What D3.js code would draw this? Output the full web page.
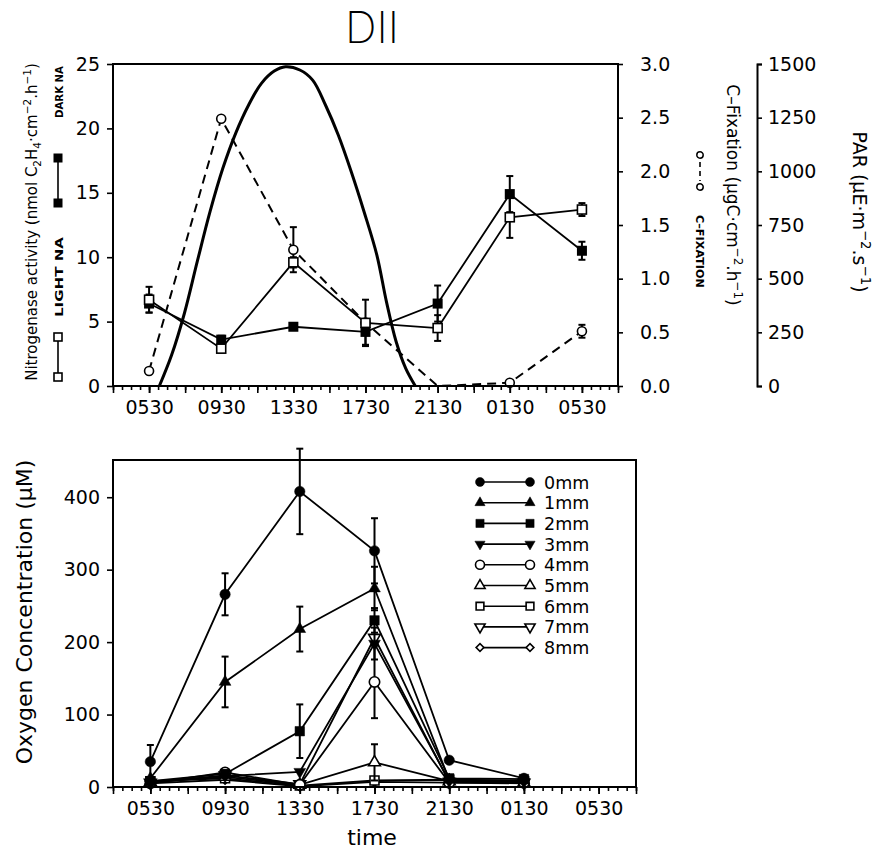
<!DOCTYPE html>
<html>
<head>
<meta charset="utf-8">
<script src="https://cdn.jsdelivr.net/npm/d3@7"></script>
<style>
  body { margin: 0; background: #fff; }
</style>
</head>
<body>
<div id="chart"></div>
<script>

/* DATA *****************************************************************/

// sampling times, in hours from midnight of day 1
var sampleHours = [5.5, 9.5, 13.5, 17.5, 21.5, 25.5, 29.5];
var tickLabels = ["0530", "0930", "1330", "1730", "2130", "0130", "0530"];

// nitrogenase activity (nmol C2H4 cm-2 h-1)
var lightNA    = [6.7, 2.9, 9.6, 4.9, 4.5, 13.1, 13.7];
var lightNAErr = [1.0, 0.3, 0.4, 1.8, 1.0, 1.6, 0.5];
var darkNA     = [6.4, 3.6, 4.6, 4.2, 6.4, 14.9, 10.5];
var darkNAErr  = [0.7, 0.3, 0.2, 1.0, 1.4, 1.4, 0.7];

// C-fixation (ugC cm-2 h-1)
var cFix    = [0.14, 2.49, 1.27, 0.59, 0.0, 0.03, 0.51];
var cFixErr = [0, 0, 0.21, 0, 0, 0, 0.06];

// PAR curve
var parHours  = [6.07, 6.75, 7.46, 8.17, 8.88, 9.59, 10.30, 11.02, 11.73, 12.44, 13.06,
                 13.86, 14.57, 15.28, 15.99, 16.71, 17.42, 18.13, 18.66, 19.20, 19.73, 20.26];
var parValues = [0, 144, 339, 579, 812, 1014, 1177, 1309, 1410, 1467, 1487,
                 1472, 1425, 1309, 1169, 998, 812, 610, 393, 206, 82, 0];

// oxygen concentration (uM) by depth, first six sampling times
var depths = ["0mm", "1mm", "2mm", "3mm", "4mm", "5mm", "6mm", "7mm", "8mm"];
var oxygenHours = [5.5, 9.5, 13.5, 17.5, 21.5, 25.5];
var oxygen = [
    [35, 266, 408, 326, 37, 12],
    [12, 145, 218, 274, 10, 9],
    [8, 18, 77, 230, 12, 11],
    [6, 15, 21, 198, 8, 7],
    [5, 20, 3, 145, 6, 6],
    [7, 14, 3, 34, 8, 6],
    [8, 12, 2, 9, 10, 8],
    [6, 16, 4, 206, 7, 6],
    [5, 10, 1, 7, 6, 5]
];
var oxygenErr = [
    [23, 29, 59, 45, 0, 0],
    [0, 35, 31, 30, 0, 0],
    [0, 5, 37, 17, 0, 0],
    [0, 0, 0, 22, 0, 0],
    [0, 0, 0, 50, 0, 0],
    [0, 0, 0, 25, 0, 0],
    [0, 0, 0, 0, 0, 0],
    [0, 0, 0, 0, 0, 0],
    [0, 0, 0, 0, 0, 0]
];

/* SETTINGS *************************************************************/

var fontFamily = "'DejaVu Sans', sans-serif";
var tickFont = 19;

var svg = d3.select("#chart").append("svg")
    .attr("width", 874)
    .attr("height", 854)
    .style("background", "#fff")
    .attr("font-family", fontFamily);

// scales
var xTop = d3.scaleLinear().domain([3.5, 31.5]).range([113, 618]);
var yNA  = d3.scaleLinear().domain([0, 25]).range([386, 64]);
var yC   = d3.scaleLinear().domain([0, 3]).range([386, 64]);
var yPAR = d3.scaleLinear().domain([0, 1500]).range([386, 64]);

var xBot = d3.scaleLinear().domain([3.5, 31.5]).range([113, 636]);
var yO2  = d3.scaleLinear().domain([0, 450]).range([787, 461]);

/* HELPERS **************************************************************/

function styleAxis(g, noDomain) {
    if (noDomain) g.select(".domain").remove();
    g.selectAll("line").attr("stroke", "#000").attr("stroke-width", 1.6);
    g.select(".domain").attr("stroke", "#000").attr("stroke-width", 2);
    g.selectAll("text").attr("fill", "#000").attr("font-size", tickFont).attr("font-family", fontFamily);
}

function timeAxis(x, yPos) {
    var minor = d3.range(3.5, 31.51, 0.5);
    var major = d3.range(3.5, 31.51, 2);
    svg.append("g").attr("transform", "translate(0," + yPos + ")")
        .call(d3.axisBottom(x).tickValues(minor).tickSize(4).tickFormat(""))
        .call(styleAxis, true);
    svg.append("g").attr("transform", "translate(0," + yPos + ")")
        .call(d3.axisBottom(x).tickValues(major).tickSize(7).tickFormat(""))
        .call(styleAxis, true);
    svg.append("g").attr("transform", "translate(0," + yPos + ")")
        .call(d3.axisBottom(x).tickValues(sampleHours).tickSize(7).tickPadding(8)
            .tickFormat(function(d, i) { return tickLabels[i]; }))
        .call(styleAxis, true);
}

// text with sub/superscripts; parts = [[text, "sub"|"sup"|null], ...]
function richText(g, parts, size) {
    var t = g.append("text").attr("text-anchor", "middle").attr("font-size", size).attr("fill", "#000");
    var cur = 0;
    parts.forEach(function(p) {
        var target = p[1] == "sup" ? -size * 0.42 : p[1] == "sub" ? size * 0.28 : 0;
        var ts = t.append("tspan").text(p[0]).attr("dy", target - cur);
        if (p[1]) ts.attr("font-size", size * 0.7);
        cur = target;
    });
    return t;
}

function errorBars(g, xs, vals, errs, x, y, cap) {
    xs.forEach(function(h, i) {
        var e = errs[i];
        if (!e) return;
        var cx = x(h), y1 = y(vals[i] - e), y2 = y(vals[i] + e);
        g.append("line").attr("x1", cx).attr("x2", cx).attr("y1", y1).attr("y2", y2)
            .attr("stroke", "#000").attr("stroke-width", 2);
        [y1, y2].forEach(function(yy) {
            g.append("line").attr("x1", cx - cap).attr("x2", cx + cap).attr("y1", yy).attr("y2", yy)
                .attr("stroke", "#000").attr("stroke-width", 2);
        });
    });
}

/* TOP PANEL ************************************************************/

// title
svg.append("text").attr("x", 372).attr("y", 43).attr("text-anchor", "middle")
    .attr("font-family", "Inter, 'DejaVu Sans', sans-serif").attr("font-weight", 200)
    .attr("font-size", 44).text("DII");

var topPanel = svg.append("g");

// PAR bell curve
var parLine = d3.line()
    .x(function(d, i) { return xTop(parHours[i]); })
    .y(function(d) { return yPAR(d); })
    .curve(d3.curveCatmullRom.alpha(0.5));
topPanel.append("path").datum(parValues).attr("d", parLine)
    .attr("fill", "none").attr("stroke", "#000").attr("stroke-width", 3);

// C-fixation dashed line
var cLine = d3.line()
    .x(function(d, i) { return xTop(sampleHours[i]); })
    .y(function(d) { return yC(d); });
topPanel.append("path").datum(cFix).attr("d", cLine)
    .attr("fill", "none").attr("stroke", "#000").attr("stroke-width", 2)
    .attr("stroke-dasharray", "9,6");

// nitrogenase lines
var naLine = d3.line()
    .x(function(d, i) { return xTop(sampleHours[i]); })
    .y(function(d) { return yNA(d); });
[darkNA, lightNA].forEach(function(s) {
    topPanel.append("path").datum(s).attr("d", naLine)
        .attr("fill", "none").attr("stroke", "#000").attr("stroke-width", 1.8);
});

errorBars(topPanel, sampleHours, cFix, cFixErr, xTop, yC, 3.5);
errorBars(topPanel, sampleHours, lightNA, lightNAErr, xTop, yNA, 3.5);
errorBars(topPanel, sampleHours, darkNA, darkNAErr, xTop, yNA, 3.5);

// C-fixation circles (nothing drawn where value sits on the axis)
topPanel.append("g").selectAll("circle")
    .data(cFix.map(function(v, i) { return [sampleHours[i], v]; }).filter(function(d) { return d[1] > 0; }))
    .join("circle")
    .attr("cx", function(d) { return xTop(d[0]); })
    .attr("cy", function(d) { return yC(d[1]); })
    .attr("r", 4.5)
    .attr("fill", "#fff").attr("stroke", "#000").attr("stroke-width", 1.6);

// dark NA (filled squares) and light NA (open squares)
topPanel.append("g").selectAll("rect")
    .data(darkNA)
    .join("rect")
    .attr("x", function(d, i) { return xTop(sampleHours[i]) - 5; })
    .attr("y", function(d) { return yNA(d) - 5; })
    .attr("width", 10).attr("height", 10)
    .attr("fill", "#000");
topPanel.append("g").selectAll("rect")
    .data(lightNA)
    .join("rect")
    .attr("x", function(d, i) { return xTop(sampleHours[i]) - 4.5; })
    .attr("y", function(d) { return yNA(d) - 4.5; })
    .attr("width", 9).attr("height", 9)
    .attr("fill", "#fff").attr("stroke", "#000").attr("stroke-width", 1.6);

// frame
svg.append("rect").attr("x", 113).attr("y", 64).attr("width", 505).attr("height", 322)
    .attr("fill", "none").attr("stroke", "#000").attr("stroke-width", 2);

timeAxis(xTop, 386);

svg.append("g").attr("transform", "translate(113,0)")
    .call(d3.axisLeft(yNA).tickValues([0, 5, 10, 15, 20, 25]).tickSize(6).tickPadding(7))
    .call(styleAxis, true);

svg.append("g").attr("transform", "translate(618,0)")
    .call(d3.axisRight(yC).tickValues(d3.range(0, 3.01, 0.5)).tickSize(5).tickPadding(17)
        .tickFormat(d3.format(".1f")))
    .call(styleAxis, true);

svg.append("g").attr("transform", "translate(757,0)")
    .call(d3.axisRight(yPAR).tickValues(d3.range(0, 1501, 250)).tickSize(5).tickPadding(6)
        .tickFormat(d3.format("d")))
    .call(styleAxis, false);

// axis titles
var naTitle = svg.append("g").attr("transform", "translate(37,222) rotate(-90)");
richText(naTitle, [["Nitrogenase activity (nmol C", null], ["2", "sub"], ["H", null], ["4", "sub"],
    ["·cm", null], ["−2", "sup"], [".h", null], ["−1", "sup"], [")", null]], 15);

var cTitle = svg.append("g").attr("transform", "translate(727,195) rotate(90)");
richText(cTitle, [["C–Fixation (μgC·cm", null], ["−2", "sup"], [".h", null], ["−1", "sup"], [")", null]], 17);

var parTitle = svg.append("g").attr("transform", "translate(853,212) rotate(90)");
richText(parTitle, [["PAR (μE·m", null], ["−2", "sup"], [".s", null], ["−1", "sup"], [")", null]], 19);

// left-side legend (rotated)
var lg = svg.append("g").attr("transform", "translate(58,380) rotate(-90)");
lg.append("line").attr("x1", 3).attr("x2", 43).attr("y1", 0).attr("y2", 0).attr("stroke", "#000").attr("stroke-width", 1.6);
[3, 43].forEach(function(px) {
    lg.append("rect").attr("x", px - 4).attr("y", -4).attr("width", 8).attr("height", 8)
        .attr("fill", "#fff").attr("stroke", "#000").attr("stroke-width", 1.6);
});
lg.append("text").attr("x", 63).attr("y", 4.5).attr("font-size", 11).attr("font-weight", "bold")
    .attr("textLength", 80).attr("lengthAdjust", "spacingAndGlyphs").text("LIGHT NA");
lg.append("line").attr("x1", 177).attr("x2", 222).attr("y1", 0).attr("y2", 0).attr("stroke", "#000").attr("stroke-width", 1.6);
[177, 222].forEach(function(px) {
    lg.append("rect").attr("x", px - 4.5).attr("y", -4.5).attr("width", 9).attr("height", 9).attr("fill", "#000");
});
lg.append("text").attr("x", 262).attr("y", 4.5).attr("font-size", 11).attr("font-weight", "bold")
    .attr("textLength", 52).attr("lengthAdjust", "spacingAndGlyphs").text("DARK NA");

// C-fixation legend (rotated)
var cg = svg.append("g").attr("transform", "translate(700,150) rotate(90)");
[5, 37].forEach(function(px) {
    cg.append("circle").attr("cx", px).attr("cy", 0).attr("r", 3.2)
        .attr("fill", "#fff").attr("stroke", "#000").attr("stroke-width", 1.5);
});
cg.append("line").attr("x1", 12).attr("x2", 31).attr("y1", 0).attr("y2", 0)
    .attr("stroke", "#000").attr("stroke-width", 1.6).attr("stroke-dasharray", "5,4");
cg.append("text").attr("x", 65).attr("y", 4).attr("font-size", 10).attr("font-weight", "bold")
    .attr("textLength", 73).attr("lengthAdjust", "spacingAndGlyphs").text("C–FIXATION");

/* BOTTOM PANEL *********************************************************/

var markers = [
    { sym: d3.symbolCircle,   size: 85, fill: "#000", rot: 0 },
    { sym: d3.symbolTriangle, size: 60, fill: "#000", rot: 0 },
    { sym: d3.symbolSquare,   size: 90, fill: "#000", rot: 0 },
    { sym: d3.symbolTriangle, size: 60, fill: "#000", rot: 180 },
    { sym: d3.symbolCircle,   size: 85, fill: "#fff", rot: 0 },
    { sym: d3.symbolTriangle, size: 60, fill: "#fff", rot: 0 },
    { sym: d3.symbolSquare,   size: 80, fill: "#fff", rot: 0 },
    { sym: d3.symbolTriangle, size: 60, fill: "#fff", rot: 180 },
    { sym: d3.symbolSquare,   size: 40, fill: "#fff", rot: 45 }
];

var botPanel = svg.append("g");
var o2Line = d3.line()
    .x(function(d, i) { return xBot(oxygenHours[i]); })
    .y(function(d) { return yO2(d); });

// deeper layers first so the filled markers stay on top
d3.range(depths.length).reverse().forEach(function(k) {
    var m = markers[k];
    botPanel.append("path").datum(oxygen[k]).attr("d", o2Line)
        .attr("fill", "none").attr("stroke", "#000").attr("stroke-width", 1.8);
    errorBars(botPanel, oxygenHours, oxygen[k], oxygenErr[k], xBot, yO2, 3.5);
    botPanel.append("g").selectAll("path")
        .data(oxygen[k])
        .join("path")
        .attr("d", d3.symbol().type(m.sym).size(m.size))
        .attr("transform", function(d, i) {
            return "translate(" + xBot(oxygenHours[i]) + "," + yO2(d) + ") rotate(" + m.rot + ")";
        })
        .attr("fill", m.fill).attr("stroke", "#000").attr("stroke-width", m.fill == "#fff" ? 1.6 : 0.5);
});

svg.append("rect").attr("x", 113).attr("y", 460).attr("width", 523).attr("height", 327)
    .attr("fill", "none").attr("stroke", "#000").attr("stroke-width", 2);

timeAxis(xBot, 787);

svg.append("g").attr("transform", "translate(113,0)")
    .call(d3.axisLeft(yO2).tickValues([0, 100, 200, 300, 400]).tickSize(6).tickPadding(7))
    .call(styleAxis, true);

svg.append("text").attr("transform", "translate(32,612) rotate(-90)")
    .attr("text-anchor", "middle").attr("font-size", 22).text("Oxygen Concentration (μM)");

svg.append("text").attr("x", 372).attr("y", 845).attr("text-anchor", "middle")
    .attr("font-size", 22).text("time");

// depth legend
var leg = svg.append("g");
depths.forEach(function(name, k) {
    var m = markers[k];
    var yy = 482 + k * 20.7;
    leg.append("line").attr("x1", 480).attr("x2", 530).attr("y1", yy).attr("y2", yy)
        .attr("stroke", "#000").attr("stroke-width", 1.6);
    [480, 530].forEach(function(px) {
        leg.append("path").attr("d", d3.symbol().type(m.sym).size(m.size * 0.75))
            .attr("transform", "translate(" + px + "," + yy + ") rotate(" + m.rot + ")")
            .attr("fill", m.fill).attr("stroke", "#000").attr("stroke-width", m.fill == "#fff" ? 1.6 : 0.5);
    });
    leg.append("text").attr("x", 544).attr("y", yy + 6.5).attr("font-size", 17.5).text(name);
});

</script>
</body>
</html>
